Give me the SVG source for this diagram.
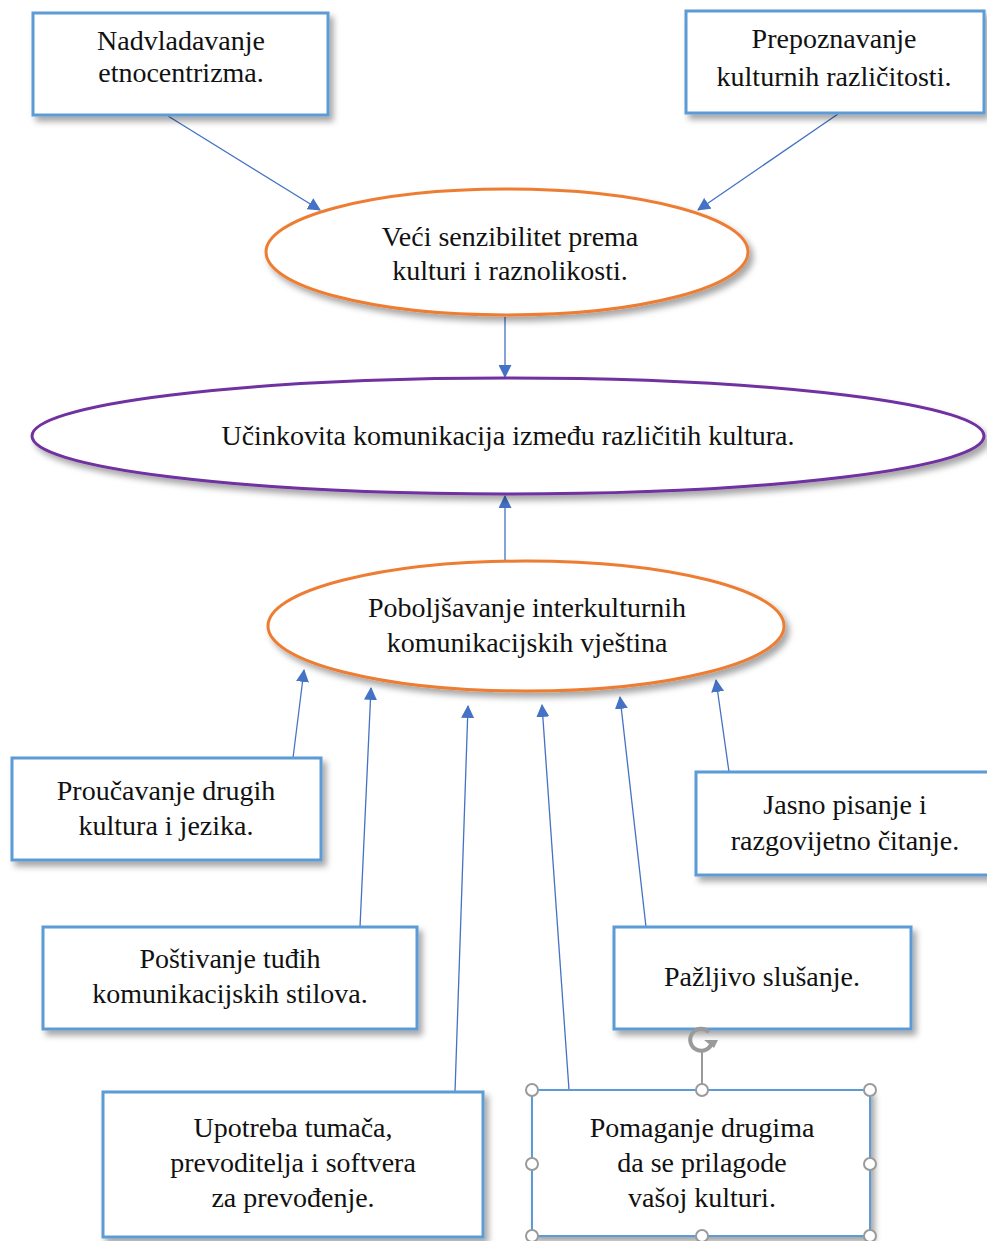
<svg xmlns="http://www.w3.org/2000/svg" width="987" height="1241" viewBox="0 0 987 1241">
<style>
.box{fill:#fff;stroke:#5B9BD5;stroke-width:3;filter:url(#sh)}
.ell-o{fill:#fff;stroke:#ED7D31;stroke-width:3;filter:url(#sh)}
.ell-p{fill:#fff;stroke:#7030A0;stroke-width:3;filter:url(#sh)}
.t{font-size:28px;fill:#111;text-anchor:middle}
.c{stroke:#4472C4;stroke-width:1.3;fill:none;marker-end:url(#ah)}
.h{fill:#fff;stroke:#9a9a9a;stroke-width:2}
</style>
<defs>
<filter id="sh" x="-10%" y="-10%" width="130%" height="140%">
<feDropShadow dx="4" dy="5" stdDeviation="3" flood-color="#000" flood-opacity="0.35"/>
</filter>
<marker id="ah" viewBox="0 0 12 12" refX="11" refY="6" markerWidth="13" markerHeight="13" markerUnits="userSpaceOnUse" orient="auto">
<path d="M0,0 L12,6 L0,12 z" fill="#4472C4"/>
</marker>
</defs>
<rect width="987" height="1241" fill="#fff"/>
<g id="connectors">
<line class="c" x1="168" y1="116" x2="320" y2="210"/>
<line class="c" x1="838" y1="114" x2="698" y2="210"/>
<line class="c" x1="505" y1="317" x2="505" y2="377"/>
<line class="c" x1="505" y1="560" x2="505" y2="496"/>
<line class="c" x1="293" y1="758" x2="304" y2="670"/>
<line class="c" x1="360" y1="927" x2="371" y2="688"/>
<line class="c" x1="455" y1="1092" x2="468" y2="706"/>
<line class="c" x1="569" y1="1090" x2="542" y2="705"/>
<line class="c" x1="646" y1="927" x2="620" y2="697"/>
<line class="c" x1="729" y1="772" x2="716" y2="680"/>
</g>
<g font-family="Liberation Serif, Times New Roman, DejaVu Serif, serif">
<g id="n1"><rect class="box" x="33" y="13" width="295" height="102"/>
<text class="t" x="181" y="50">Nadvladavanje</text><text class="t" x="181" y="82">etnocentrizma.</text></g>
<g id="n2"><rect class="box" x="686" y="11" width="298" height="102"/>
<text class="t" x="834" y="48">Prepoznavanje</text><text class="t" x="834" y="86">kulturnih različitosti.</text></g>
<g id="n3"><ellipse class="ell-o" cx="507" cy="252" rx="241" ry="63"/>
<text class="t" x="510" y="246">Veći senzibilitet prema</text><text class="t" x="510" y="280">kulturi i raznolikosti.</text></g>
<g id="n4"><ellipse class="ell-p" cx="508" cy="436" rx="476" ry="58"/>
<text class="t" x="508" y="445">Učinkovita komunikacija između različitih kultura.</text></g>
<g id="n5"><ellipse class="ell-o" cx="526" cy="626" rx="258" ry="65"/>
<text class="t" x="527" y="617">Poboljšavanje interkulturnih</text><text class="t" x="527" y="652">komunikacijskih vještina</text></g>
<g id="n6"><rect class="box" x="12" y="758" width="309" height="102"/>
<text class="t" x="166" y="800">Proučavanje drugih</text><text class="t" x="166" y="835">kultura i jezika.</text></g>
<g id="n7"><rect class="box" x="43" y="927" width="374" height="102"/>
<text class="t" x="230" y="968">Poštivanje tuđih</text><text class="t" x="230" y="1003">komunikacijskih stilova.</text></g>
<g id="n8"><rect class="box" x="103" y="1092" width="380" height="145"/>
<text class="t" x="293" y="1137">Upotreba tumača,</text><text class="t" x="293" y="1172">prevoditelja i softvera</text><text class="t" x="293" y="1207">za prevođenje.</text></g>
<g id="n9"><rect class="box" x="696" y="772" width="293" height="103"/>
<text class="t" x="845" y="814">Jasno pisanje i</text><text class="t" x="845" y="850">razgovijetno čitanje.</text></g>
<g id="n10"><rect class="box" x="614" y="927" width="297" height="102"/>
<text class="t" x="762" y="986">Pažljivo slušanje.</text></g>
<g id="n11"><rect class="box" x="532" y="1090" width="338" height="146" style="stroke-width:2"/>
<text class="t" x="702" y="1137">Pomaganje drugima</text><text class="t" x="702" y="1172">da se prilagode</text><text class="t" x="702" y="1207">vašoj kulturi.</text></g>
</g>
<g id="selection">
<line x1="702" y1="1052" x2="702" y2="1090" stroke="#9a9a9a" stroke-width="2"/>
<path d="M712,1042 A11,11 0 1 1 709,1032" fill="none" stroke="#9a9a9a" stroke-width="4"/>
<path d="M704,1040 L718,1040 L714,1048 z" fill="#9a9a9a"/>
<circle class="h" cx="532" cy="1090" r="6"/><circle class="h" cx="702" cy="1090" r="6"/><circle class="h" cx="870" cy="1090" r="6"/>
<circle class="h" cx="532" cy="1164" r="6"/><circle class="h" cx="870" cy="1164" r="6"/>
<circle class="h" cx="532" cy="1236" r="6"/><circle class="h" cx="702" cy="1236" r="6"/><circle class="h" cx="870" cy="1236" r="6"/>
</g>
</svg>
